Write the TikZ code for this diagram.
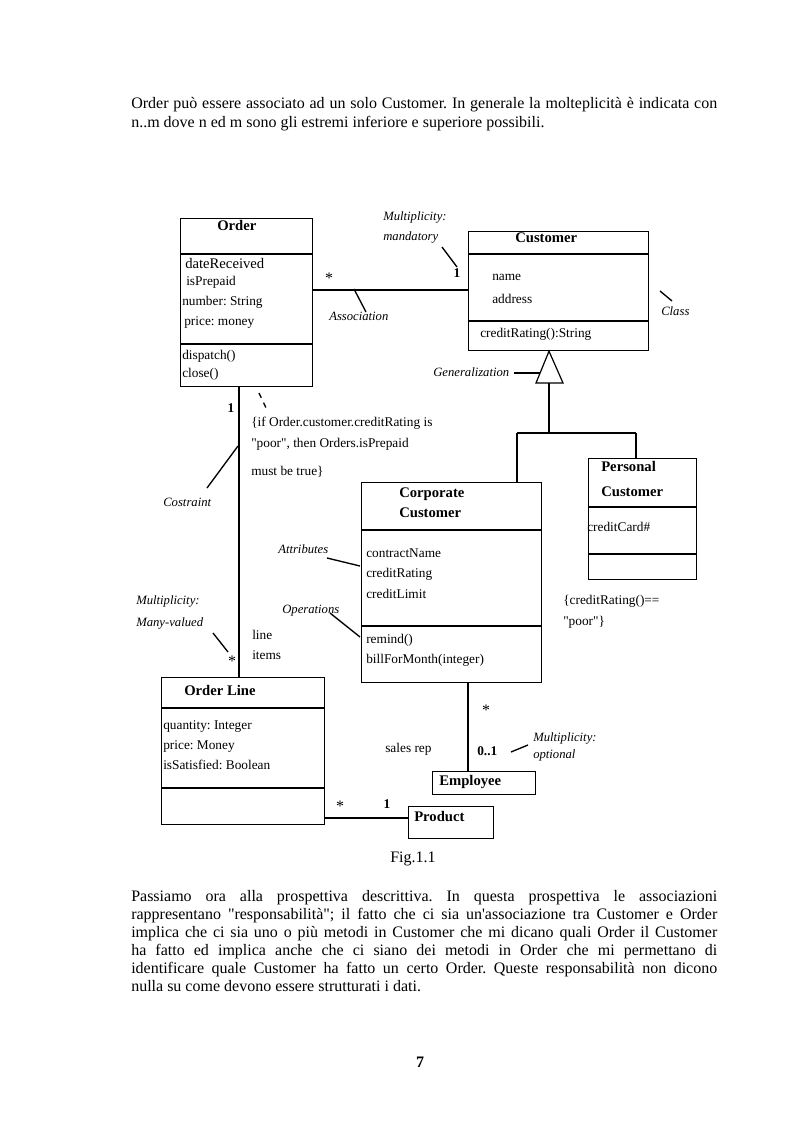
\documentclass[tikz,border=0pt]{standalone}
\usepackage{fontspec}
\setmainfont{Liberation Serif}
\frenchspacing
\usetikzlibrary{positioning}

\newcommand{\classsep}[2]{\draw[link] (#1.west |- 0,#2) -- (#1.east |- 0,#2);}

\begin{document}
\begin{tikzpicture}[x=0.75pt, y=-0.75pt,
  classbox/.style={rectangle, draw=black, line width=0.9pt, anchor=north west, inner sep=0pt},
  member/.style={anchor=base west, inner sep=0pt, font=\fontsize{10}{12}\selectfont},
  title/.style={anchor=base west, inner sep=0pt, font=\fontsize{11}{13}\selectfont\bfseries},
  note/.style={anchor=base west, inner sep=0pt, font=\fontsize{9.5}{11}\selectfont\itshape},
  mult/.style={anchor=base, inner sep=0pt, font=\fontsize{12}{14}\selectfont},
  link/.style={line width=0.9pt},
  leader/.style={line width=1pt},
  para/.style={anchor=base west, inner sep=0pt, text width=439.5pt, align=justify, font=\fontsize{12}{13.6}\selectfont}]
\useasboundingbox[fill=white] (0,0) rectangle (793,1123);

% page text
\node (intro) [para] at (131,109) {Order può essere associato ad un solo Customer. In generale la molteplicità è indicata con\linebreak n..m dove n ed m sono gli estremi inferiore e superiore possibili.};
\node (outro) [para] at (131,901) {Passiamo ora alla prospettiva descrittiva. In questa prospettiva le associazioni\linebreak rappresentano \textquotedbl responsabilità\textquotedbl; il fatto che ci sia un\textquotesingle associazione tra Customer e Order\linebreak implica che ci sia uno o più metodi in Customer che mi dicano quali Order il Customer\linebreak ha fatto ed implica anche che ci siano dei metodi in Order che mi permettano di\linebreak identificare quale Customer ha fatto un certo Order. Queste responsabilità non dicono\linebreak nulla su come devono essere strutturati i dati.};
\node (caption) [anchor=base, inner sep=0pt, font=\fontsize{12}{14}\selectfont] at (413,862) {Fig.1.1};
\node (pagenum) [anchor=base, inner sep=0pt, font=\fontsize{12}{14}\selectfont\bfseries] at (420,1067) {7};

% classes
\node (order) [classbox, minimum width=99pt, minimum height=126pt] at (180,218) {};
\classsep{order}{254}
\classsep{order}{344}
\node (ordertitle) [title] at (217,231) {Order};
\node (daterec) [member, font=\fontsize{11}{13}\selectfont] at (185,268) {dateReceived};
\node (prepaid) [member] at (186,285) {isPrepaid};
\node (number) [member] at (182,305) {number: String};
\node (price) [member] at (184,325) {price: money};
\node (dispatch) [member] at (182,359) {dispatch()};
\node (close) [member] at (182,377) {close()};

\node (customer) [classbox, minimum width=135pt, minimum height=89.25pt] at (468,231) {};
\classsep{customer}{254}
\classsep{customer}{321}
\node (custtitle) [title] at (515,243) {Customer};
\node (name) [member] at (492,280) {name};
\node (address) [member] at (492,303) {address};
\node (rating) [member] at (480,337) {creditRating():String};

\node (corporate) [classbox, minimum width=135pt, minimum height=150pt] at (361,482) {};
\classsep{corporate}{530}
\classsep{corporate}{626}
\node (corptitle) [title] at (399,497) {Corporate};
\node (corptitleb) [title] at (399,517) {Customer};
\node (contract) [member] at (366,557) {contractName};
\node (corprating) [member] at (366,577) {creditRating};
\node (limit) [member] at (366,598) {creditLimit};
\node (remind) [member] at (366,643) {remind()};
\node (bill) [member] at (366,663) {billForMonth(integer)};

\node (personal) [classbox, minimum width=81pt, minimum height=90.75pt] at (588,458) {};
\classsep{personal}{507}
\classsep{personal}{554}
\node (perstitle) [title] at (601,471) {Personal};
\node (perstitleb) [title] at (601,496) {Customer};
\node (card) [member] at (587,531) {creditCard\#};

\node (orderline) [classbox, minimum width=122.25pt, minimum height=110.25pt] at (161,677) {};
\classsep{orderline}{708}
\classsep{orderline}{788}
\node (linetitle) [title] at (184,695) {Order Line};
\node (quantity) [member] at (163,729) {quantity: Integer};
\node (lineprice) [member] at (163,749) {price: Money};
\node (satisfied) [member] at (163,769) {isSatisfied: Boolean};

\node (employee) [classbox, minimum width=77.25pt, minimum height=17.25pt] at (432,771) {};
\node (emptitle) [title] at (439,785) {Employee};
\node (product) [classbox, minimum width=63.75pt, minimum height=24pt] at (408,806) {};
\node (prodtitle) [title] at (414,821) {Product};

% associations
\draw[link] (order.east |- 0,290) -- (customer.west |- 0,290);
\draw[link] (order.south -| 239,0) -- (orderline.north -| 239,0);
\draw[link] (corporate.south -| 468,0) -- (employee.north -| 468,0);
\draw[link] (orderline.east |- 0,818) -- (product.west |- 0,818);

% generalization
\coordinate (genbase) at (549,383);
\coordinate (branch) at (549,433);
\draw[link] (customer.south -| 549,0) -- (536,383) -- (563,383) -- cycle;
\draw[link] (genbase) -- (branch);
\draw[link] (517,433) -- (636,433);
\draw[link] (517,433) -- (corporate.north -| 517,0);
\draw[link] (636,433) -- (personal.north -| 636,0);

% multiplicities and roles
\node (m1) [mult] at (329,283) {*};
\node (m2) [mult, font=\fontsize{10}{12}\selectfont\bfseries] at (457,277) {1};
\node (m3) [mult, font=\fontsize{10}{12}\selectfont\bfseries] at (231,412) {1};
\node (m4) [mult] at (232,666) {*};
\node (m5) [mult] at (486,715) {*};
\node (m6) [mult] at (340,811) {*};
\node (m7) [mult, font=\fontsize{10}{12}\selectfont\bfseries] at (387,808) {1};
\node (m8) [member, font=\fontsize{10}{12}\selectfont\bfseries] at (477,755) {0..1};
\node (lineitems) [member] at (252,639) {line};
\node (lineitemsb) [member] at (252,659) {items};
\node (salesrep) [member] at (385,752) {sales rep};

% constraints
\node (cons1) [member] at (251,426) {\{if Order.customer.creditRating is};
\node (cons1b) [member] at (251,447) {\textquotedbl poor\textquotedbl, then Orders.isPrepaid};
\node (cons1c) [member] at (251,475) {must be true\}};
\node (cons2) [member] at (563,604) {\{creditRating()==};
\node (cons2b) [member] at (563,625) {\textquotedbl poor\textquotedbl\}};

% annotations
\node (mandatory) [note] at (383,220) {Multiplicity:};
\node (mandatoryb) [note] at (383,240) {mandatory};
\node (assoc) [note] at (329,320) {Association};
\node (classlbl) [note] at (661,315) {Class};
\node (genlbl) [note] at (433,376) {Generalization};
\node (costraint) [note] at (163,506) {Costraint};
\node (attrs) [note] at (278,553) {Attributes};
\node (ops) [note] at (282,613) {Operations};
\node (many) [note] at (136,604) {Multiplicity:};
\node (manyb) [note] at (136,626) {Many-valued};
\node (optional) [note] at (533,741) {Multiplicity:};
\node (optionalb) [note] at (533,758) {optional};

\draw[leader] (442,247) -- (457,267);
\draw[leader] (354,289) -- (366,312);
\draw[leader] (660,291) -- (672,301);
\draw[leader] (514,373) -- (540,373);
\draw[leader, dash pattern=on 4pt off 4pt] (259,393) -- (267,410);
\draw[leader] (238,446) -- (207,488);
\draw[leader] (327,558) -- (360,566);
\draw[leader] (330,613) -- (360,637);
\draw[leader] (213,633) -- (228,652);
\draw[leader] (511,752) -- (528,745);
\end{tikzpicture}
\end{document}
